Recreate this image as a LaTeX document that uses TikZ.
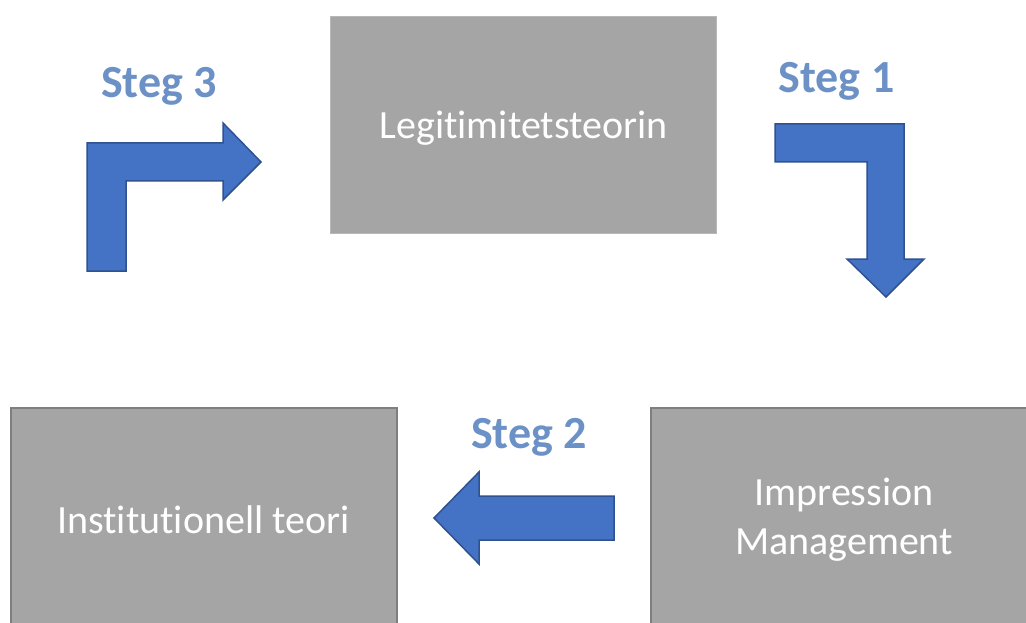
\documentclass[tikz,border=0pt]{standalone}
\usepackage{fontspec}
\setmainfont{Carlito}[Ligatures=NoCommon]
\definecolor{boxgray}{RGB}{165,165,165}
\definecolor{boxedge}{RGB}{127,127,127}
\definecolor{arrowblue}{RGB}{68,114,196}
\definecolor{arrowedge}{RGB}{47,82,143}
\definecolor{stegblue}{RGB}{108,145,198}
\begin{document}
\begin{tikzpicture}[x=1pt,y=-1pt]
    \tikzset{box/.style={fill=boxgray, minimum width=386pt, minimum height=217pt, inner sep=0pt,
        text=white, align=center, font=\fontsize{40}{49}\selectfont},
      lab/.style={text=stegblue, anchor=base, inner sep=0pt, font=\fontsize{46}{52}\selectfont\bfseries},
      blk/.style={fill=arrowblue, draw=arrowedge, line width=1.5pt, line join=miter}}
    \clip (0,0) rectangle (1026,623);
    \fill[white] (0,0) rectangle (1026,623);
    % the three boxes
    \node[box, draw=boxgray!80, text depth=0pt] (legit) at (523.5,124.5) {Legitimitetsteorin};
    \node[box, draw=boxedge, line width=2pt, minimum height=224pt] (inst) at (203.5,519.5) {Institutionell teori};
    \node[box, draw=boxedge, line width=2pt, minimum height=224pt] (impr) at (844,519.5) {Impression\\Management};
    % steps
    \node[lab] (s1) at (836.5,93) {Steg 1};
    \node[lab] (s2) at (529,448) {Steg 2};
    \node[lab] (s3) at (159,98) {Steg 3};
    \draw[blk] (775,124) -- (904,124) -- (904,259) -- (924,259) -- (886,297) -- (847,259)
      -- (867,259) -- (867,162) -- (775,162) -- cycle;
    \draw[blk] (614,496) -- (479,496) -- (479,472) -- (434,518) -- (479,564) -- (479,540)
      -- (614,540) -- cycle;
    \draw[blk] (87,271) -- (87,143) -- (223,143) -- (223,123) -- (261,162) -- (223,200)
      -- (223,181) -- (126,181) -- (126,271) -- cycle;
\end{tikzpicture}
\end{document}
